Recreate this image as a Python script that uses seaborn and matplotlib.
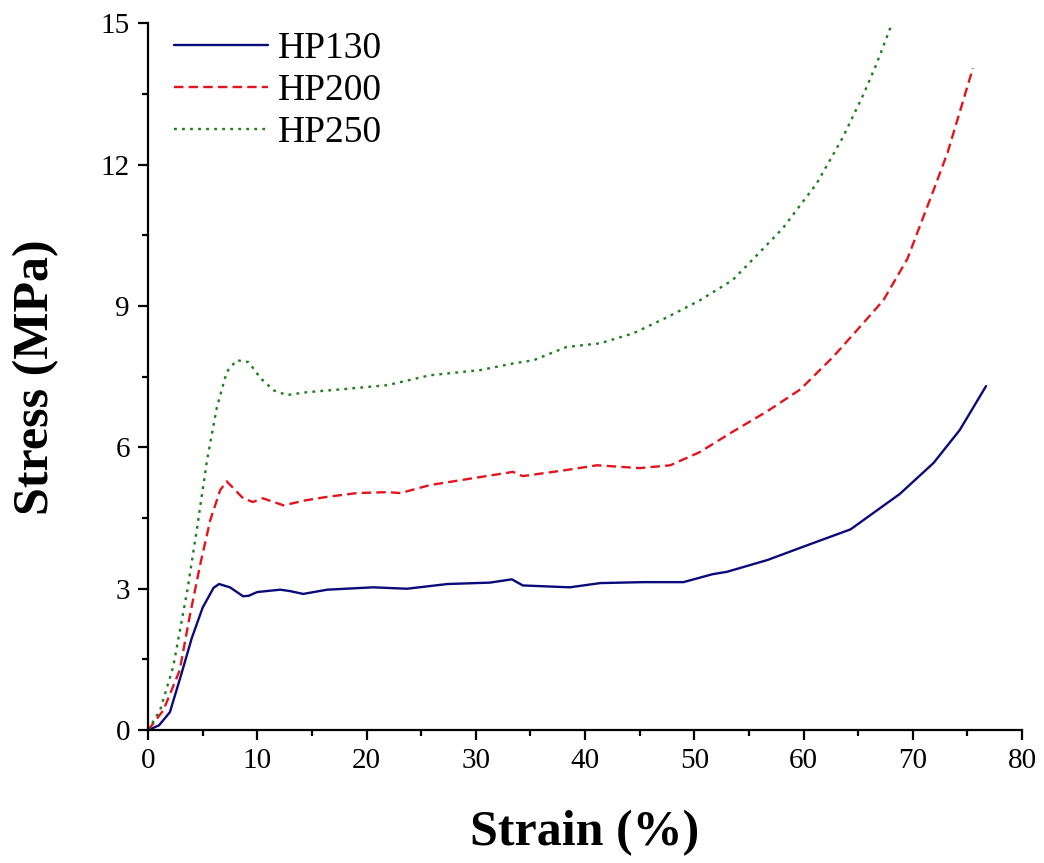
import numpy as np
import pandas as pd
import matplotlib
matplotlib.use("Agg")
import matplotlib.pyplot as plt
import seaborn as sns
from matplotlib.ticker import MultipleLocator

# ---- data ----
hp130_x = [0, 1, 2, 3, 4, 5, 6, 6.5, 7.5, 8.7, 9.2, 10, 12.1, 13, 14.2, 16.4, 20.6,
           23.7, 27.4, 31.3, 33.3, 34.3, 38.6, 41.4, 45.3, 49, 51.7, 53, 56.7, 60.3,
           64.3, 68.8, 71.9, 74.3, 76.7]
hp130_y = [0, 0.1, 0.38, 1.15, 1.95, 2.6, 3.02, 3.1, 3.03, 2.84, 2.85, 2.93, 2.98, 2.95,
           2.89, 2.98, 3.03, 3.0, 3.1, 3.13, 3.2, 3.07, 3.03, 3.12, 3.14, 3.14, 3.31, 3.36,
           3.61, 3.92, 4.26, 5.01, 5.67, 6.37, 7.3]

hp200_x = [0, 1.4, 2.9, 3.8, 4.8, 5.7, 6.6, 7.2, 8.7, 9.6, 10.5, 12.4, 14.5, 16.4,
           19.1, 21.9, 23.1, 25.8, 30.4, 33.4, 34.3, 38.3, 41.1, 45, 47.8, 50.5, 53.5,
           56.7, 59.7, 62.7, 64.9, 67.3, 69.5, 71.9, 73.2, 75.5]
hp200_y = [0, 0.42, 1.27, 2.4, 3.54, 4.46, 5.09, 5.28, 4.92, 4.84, 4.92, 4.77, 4.88,
           4.95, 5.03, 5.05, 5.03, 5.2, 5.37, 5.48, 5.39, 5.52, 5.62, 5.56, 5.62, 5.9,
           6.33, 6.77, 7.23, 7.92, 8.49, 9.12, 10.0, 11.46, 12.27, 14.05]

hp250_x = [0, 1.1, 2.3, 3.6, 4.5, 5.4, 6.3, 7.2, 8.1, 9.2, 10.3, 11.5, 12.7, 14.5,
           17.6, 21.9, 25.8, 30.4, 33.4, 35.3, 38.3, 41.4, 44.4, 47.5, 50.5, 53.5,
           55.4, 58.1, 61.2, 63.6, 65.5, 66.7, 68.1]
hp250_y = [0, 0.42, 1.34, 2.97, 4.31, 5.73, 6.85, 7.6, 7.85, 7.81, 7.47, 7.21, 7.11,
           7.17, 7.23, 7.32, 7.53, 7.64, 7.78, 7.85, 8.13, 8.21, 8.42, 8.76, 9.12, 9.55,
           10.0, 10.65, 11.6, 12.58, 13.5, 14.15, 15.0]

series_names = ["HP130", "HP200", "HP250"]
x_ticks = [0, 10, 20, 30, 40, 50, 60, 70, 80]
y_ticks = [0, 3, 6, 9, 12, 15]

frames = []
for name, xs, ys in zip(series_names, [hp130_x, hp200_x, hp250_x],
                        [hp130_y, hp200_y, hp250_y]):
    frames.append(pd.DataFrame({"Strain": xs, "Stress": ys, "Sample": name}))
df = pd.concat(frames, ignore_index=True)

sns.set_theme(style="ticks")
plt.rcParams["font.family"] = ["Liberation Serif", "DejaVu Serif"]
plt.rcParams["text.color"] = "black"
plt.rcParams["axes.labelcolor"] = "black"
plt.rcParams["xtick.color"] = "black"
plt.rcParams["ytick.color"] = "black"

fig = plt.figure(figsize=(10.44, 8.63), dpi=100)
ax = fig.add_axes([0.1418, 0.154, 0.8372, 0.819])

palette = {"HP130": "#0a0a7a", "HP200": "#e3141c", "HP250": "#1f7d1f"}
dashes = {"HP130": "", "HP200": (4, 2.2), "HP250": (1.2, 2.2)}

sns.lineplot(data=df, x="Strain", y="Stress", hue="Sample", style="Sample",
             palette=palette, dashes=dashes, sort=False, estimator=None,
             linewidth=1.7, ax=ax)

ax.set_xlim(0, 80)
ax.set_ylim(0, 15)
ax.set_xticks(x_ticks)
ax.set_yticks(y_ticks)
ax.xaxis.set_minor_locator(MultipleLocator(5))
ax.yaxis.set_minor_locator(MultipleLocator(1.5))

for s in ["top", "right"]:
    ax.spines[s].set_visible(False)
for s in ["left", "bottom"]:
    ax.spines[s].set_linewidth(1.6)
    ax.spines[s].set_color("black")

ax.tick_params(axis="both", which="major", direction="out", length=7, width=1.6,
               labelsize=21, pad=6, colors="black", labelcolor="black")
ax.tick_params(axis="both", which="minor", direction="out", length=4.5, width=1.6,
               colors="black")

ax.set_xlabel("Strain (%)", fontsize=36, fontweight="bold", labelpad=26, color="black")
ax.set_ylabel("Stress (MPa)", fontsize=36, fontweight="bold", labelpad=30, color="black")

leg = ax.legend(loc="upper left", frameon=False, fontsize=27, handlelength=2.5,
                handletextpad=0.25, labelspacing=0.2, borderaxespad=0.3,
                bbox_to_anchor=(0.0, 1.025))
for t in leg.get_texts():
    t.set_color("black")

fig.savefig("out.png", dpi=100)
